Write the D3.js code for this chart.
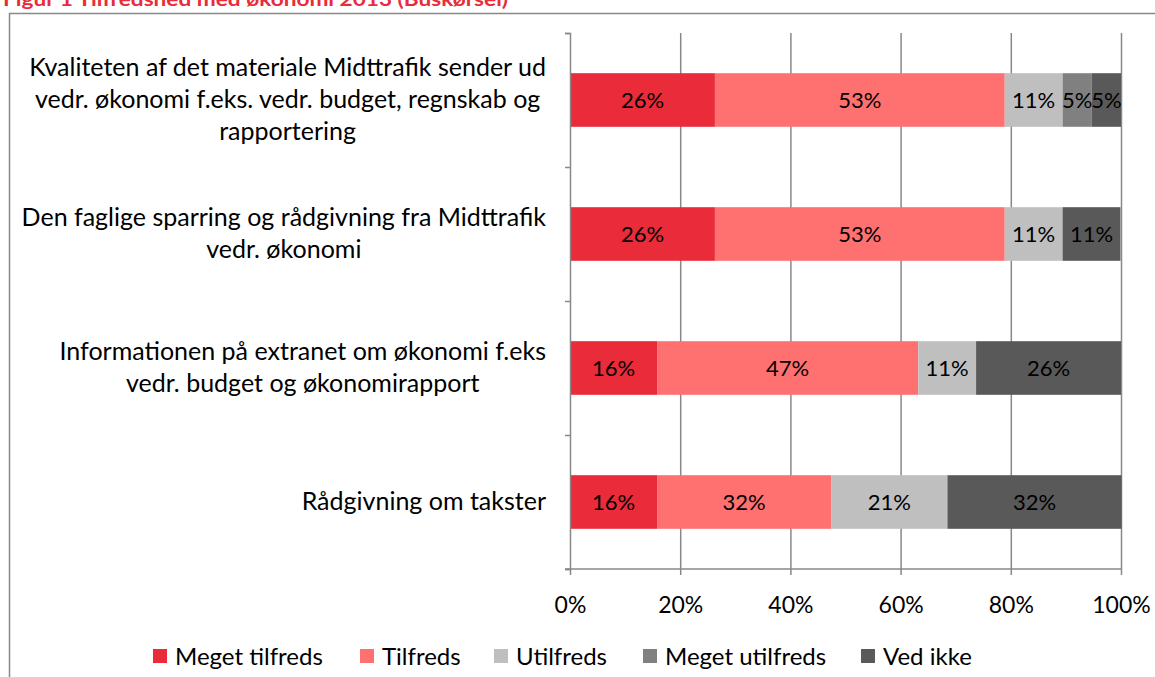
<html>
<head>
<meta charset="utf-8">
<title>Figur 1 Tilfredshed med økonomi 2013</title>
<style>
  body { margin: 0; background: #fff; }
  text { font-family: Lato, "Open Sans", sans-serif; }
</style>
</head>
<body>
<script src="https://d3js.org/d3.v7.min.js"></script>
<script>
var title = "Figur 1 Tilfredshed med økonomi 2013 (Buskørsel)";
var categories = ["Kvalitet", "Sparring", "Extranet", "Takster"];
var categoryLines = [
  ["Kvaliteten af det materiale Midttrafik sender ud", "vedr. økonomi f.eks. vedr. budget, regnskab og", "rapportering"],
  ["Den faglige sparring og rådgivning fra Midttrafik", "vedr. økonomi"],
  ["Informationen på extranet om økonomi f.eks", "vedr. budget og økonomirapport"],
  ["Rådgivning om takster"]
];
var seriesNames = ["Meget tilfreds", "Tilfreds", "Utilfreds", "Meget utilfreds", "Ved ikke"];
var megetTilfreds = [26.3, 26.3, 15.8, 15.8];
var tilfreds = [52.6, 52.6, 47.4, 31.6];
var utilfreds = [10.5, 10.5, 10.5, 21.1];
var megetUtilfreds = [5.3, 0, 0, 0];
var vedIkke = [5.3, 10.5, 26.3, 31.6];
var tickValues = [0, 20, 40, 60, 80, 100];
var colors = ["#e92b3a", "#ff7070", "#bfbfbf", "#808080", "#595959"];

var width = 1155, height = 677;
var margin = {top: 33, bottom: 108, left: 570, right: 34};
var svg = d3.select("body").append("svg").attr("width", width).attr("height", height);

// rows for the stack
var allSeries = [megetTilfreds, tilfreds, utilfreds, megetUtilfreds, vedIkke];
var rows = categories.map(function(c, i) {
  var r = {cat: c};
  seriesNames.forEach(function(s, j) { r[s] = allSeries[j][i]; });
  return r;
});
var stacked = d3.stack().keys(seriesNames)(rows);

var x = d3.scaleLinear().domain([0, 100]).range([margin.left, width - margin.right]);
var y = d3.scaleBand().domain(categories).range([margin.top, height - margin.bottom])
  .paddingInner(0.6).paddingOuter(0.3);
var yEdge = d3.scaleLinear().domain([0, categories.length]).range([margin.top, height - margin.bottom]);
var color = d3.scaleOrdinal().domain(seriesNames).range(colors);

// title (cut at the top edge like the source) + frame
svg.append("text").attr("x", 3).attr("y", 6).text(title)
  .attr("fill", "#e92b3a").attr("font-weight", "bold").attr("font-size", "19px")
  .attr("textLength", 505).attr("lengthAdjust", "spacingAndGlyphs");
svg.append("rect").attr("x", 9.5).attr("y", 13.5).attr("width", 1200).attr("height", 700)
  .attr("fill", "none").attr("stroke", "#888").attr("stroke-width", 1.5);

// gridlines
svg.append("g")
  .attr("transform", "translate(0," + (height - margin.bottom) + ")")
  .call(d3.axisBottom(x).tickValues(tickValues.slice(1)).tickSize(-(height - margin.top - margin.bottom)).tickFormat(""))
  .call(function(g) { g.select(".domain").remove(); })
  .selectAll("line").attr("stroke", "#888").attr("stroke-width", 1.5);

// bars
var layer = svg.append("g").selectAll("g").data(stacked).enter().append("g")
  .attr("fill", function(d) { return color(d.key); });
layer.selectAll("rect").data(function(d) { return d; }).enter().append("rect")
  .attr("x", function(d) { return x(d[0]); })
  .attr("y", function(d) { return y(d.data.cat); })
  .attr("width", function(d) { return x(d[1]) - x(d[0]); })
  .attr("height", y.bandwidth());
layer.selectAll("text").data(function(d) { return d.filter(function(e) { return e[1] - e[0] > 0; }); })
  .enter().append("text")
  .attr("x", function(d) { return (x(d[0]) + x(d[1])) / 2; })
  .attr("y", function(d) { return y(d.data.cat) + y.bandwidth() / 2 + 8; })
  .attr("text-anchor", "middle").attr("fill", "#000").attr("font-size", "22px")
  .text(function(d) { return Math.round(d[1] - d[0]) + "%"; });

// x axis
var xAxis = svg.append("g")
  .attr("transform", "translate(0," + (height - margin.bottom) + ")")
  .call(d3.axisBottom(x).tickValues(tickValues).tickSize(6).tickPadding(22)
    .tickFormat(function(d) { return d + "%"; }));
xAxis.select(".domain").attr("d", "M" + (margin.left - 5) + ",0H" + x(100));
xAxis.selectAll("line").attr("stroke", "#888").attr("stroke-width", 1.5);
xAxis.select(".domain").attr("stroke", "#888").attr("stroke-width", 1.5);
xAxis.selectAll("text").attr("font-size", "23px").attr("fill", "#000").attr("font-family", "Lato");

// y axis (ticks between categories)
var yAxis = svg.append("g")
  .attr("transform", "translate(" + margin.left + ",0)")
  .call(d3.axisLeft(yEdge).tickValues(d3.range(categories.length + 1)).tickSize(5).tickFormat(""));
yAxis.selectAll("line, .domain").attr("stroke", "#888").attr("stroke-width", 1.5);

// category labels: lines centred inside a block right-aligned to the axis
var labelRight = 546, lineH = 32;
categories.forEach(function(c, i) {
  var lines = categoryLines[i];
  var g = svg.append("g");
  var texts = g.selectAll("text").data(lines).enter().append("text")
    .attr("font-size", "25px").attr("fill", "#000").attr("text-anchor", "middle")
    .text(function(d) { return d; });
  var maxW = d3.max(texts.nodes(), function(n) { return n.getComputedTextLength(); });
  var cy = y(c) + y.bandwidth() / 2;
  texts.attr("x", labelRight - maxW / 2)
    .attr("y", function(d, k) { return cy + (k - (lines.length - 1) / 2) * lineH + 8; });
});

// legend
var legendX = [153, 360, 494, 643, 861];
var legend = svg.append("g").selectAll("g").data(seriesNames).enter().append("g")
  .attr("transform", function(d, i) { return "translate(" + legendX[i] + ",649)"; });
legend.append("rect").attr("width", 14).attr("height", 14).attr("fill", function(d) { return color(d); });
legend.append("text").attr("x", 22).attr("y", 16).attr("font-size", "24px").attr("fill", "#000")
  .text(function(d) { return d; });
</script>
</body>
</html>
